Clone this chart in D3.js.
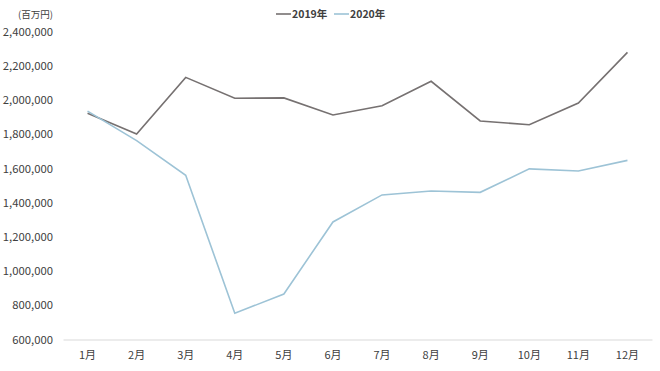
<!DOCTYPE html>
<html><head><meta charset="utf-8">
<script src="https://cdn.jsdelivr.net/npm/d3@7"></script>
<style>
body{margin:0;background:#fff;}
text{font-family:"Noto Sans CJK JP","Noto Sans",sans-serif;}
</style></head>
<body><svg id="c" width="660" height="371"></svg>
<script>
const months = ["1月","2月","3月","4月","5月","6月","7月","8月","9月","10月","11月","12月"];
const v2019 = [1922000,1801000,2132000,2010000,2012000,1912000,1966000,2109000,1877000,1855000,1982000,2278000];
const v2020 = [1935000,1762000,1560000,753000,866000,1287000,1445000,1468000,1460000,1597000,1585000,1647000];
const yTicks = [600000,800000,1000000,1200000,1400000,1600000,1800000,2000000,2200000,2400000];
const seriesNames = ["2019年","2020年"];
const colors = ["#767171","#9dc3d6"];

const svg = d3.select("#c");
const x = d3.scaleBand().domain(months).range([63,652]);
const y = d3.scaleLinear().domain([600000,2400000]).range([339.5,31.5]);

const fmt = d3.format(",");
const yAxis = svg.append("g").attr("transform","translate(53,0)")
  .call(d3.axisLeft(y).tickValues(yTicks).tickFormat(fmt).tickSize(0).tickPadding(0));
yAxis.select(".domain").remove();
yAxis.selectAll("text").attr("font-size",11.3).attr("fill","#404040")
  .style("font-family","'Noto Sans CJK JP','Noto Sans',sans-serif");

const xAxis = svg.append("g").attr("transform","translate(0,339.5)")
  .call(d3.axisBottom(x).tickSize(0).tickPadding(12));
xAxis.select(".domain").attr("stroke","#d9d9d9").attr("stroke-width",1);
xAxis.selectAll("text").attr("font-size",11).attr("fill","#404040")
  .style("font-family","'Noto Sans CJK JP','Noto Sans',sans-serif");

svg.append("text").attr("x",53).attr("y",18).attr("text-anchor","end")
  .attr("font-size",9.5).attr("fill","#404040").text("(百万円)");

const line = d3.line().x((d,i)=>x(months[i])+x.bandwidth()/2).y(d=>y(d));
[v2019,v2020].forEach((vals,k)=>{
  svg.append("path").datum(vals).attr("d",line).attr("fill","none")
    .attr("stroke",colors[k]).attr("stroke-width",1.6).attr("stroke-linejoin","miter");
});

const legX = [276,334];
seriesNames.forEach((n,k)=>{
  svg.append("line").attr("x1",legX[k]).attr("x2",legX[k]+15).attr("y1",14).attr("y2",14)
    .attr("stroke",colors[k]).attr("stroke-width",1.6);
  svg.append("text").attr("x",legX[k]+16).attr("y",18).attr("font-size",10.5)
    .attr("font-weight","bold").attr("fill","#404040").text(n);
});
</script></body></html>
